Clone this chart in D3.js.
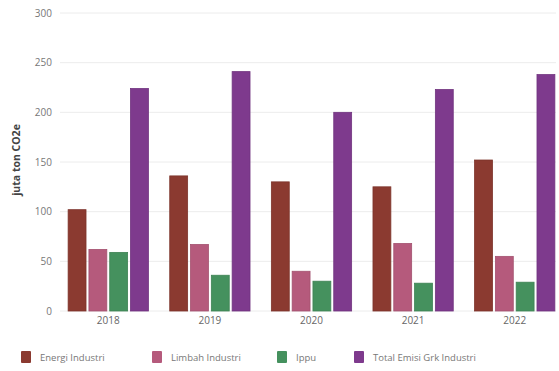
<!DOCTYPE html>
<html>
<head>
<meta charset="utf-8">
<script src="https://cdn.jsdelivr.net/npm/d3@7"></script>
<style>
  html, body { margin: 0; padding: 0; background: #fff; }
  svg { display: block; font-family: "Open Sans", "Noto Sans", sans-serif; }
</style>
</head>
<body>
<svg id="chart" width="559" height="371"></svg>
<script>
// Emisi GRK sektor industri per tahun (juta ton CO2e)
const years = ["2018", "2019", "2020", "2021", "2022"];
const seriesNames = ["Energi Industri", "Limbah Industri", "Ippu", "Total Emisi Grk Industri"];
const energiIndustri = [102, 136, 130, 125, 152];
const limbahIndustri = [62, 67, 40, 68, 55];
const ippu = [59, 36, 30, 28, 29];
const totalEmisi = [224, 241, 200, 223, 238];
const yTicks = [0, 50, 100, 150, 200, 250, 300];
const colors = ["#8b3a30", "#b55a7c", "#45915e", "#7e3a8d"];

const seriesValues = [energiIndustri, limbahIndustri, ippu, totalEmisi];
const rows = years.map((yr, i) => ({
  year: yr,
  values: seriesNames.map((name, s) => ({ name, s, v: seriesValues[s][i] }))
}));

const svg = d3.select("#chart");
const plot = { left: 60, right: 563, top: 13, bottom: 311 };

const x0 = d3.scaleBand()
  .domain(years)
  .range([plot.left, plot.right])
  .paddingInner(0.21)
  .paddingOuter(0.08);

const x1 = d3.scaleBand()
  .domain(seriesNames)
  .range([0, x0.bandwidth()])
  .paddingInner(0.14);

const y = d3.scaleLinear().domain([0, 300]).range([plot.bottom, plot.top]);
const color = d3.scaleOrdinal().domain(seriesNames).range(colors);

// horizontal grid lines
svg.append("g")
  .selectAll("line")
  .data(yTicks)
  .join("line")
  .attr("x1", plot.left)
  .attr("x2", 556)
  .attr("y1", d => y(d))
  .attr("y2", d => y(d))
  .attr("stroke", "#ececec")
  .attr("stroke-width", 1);

// y axis labels
const yAxis = d3.axisLeft(y).tickValues(yTicks).tickSize(0).tickPadding(8);
svg.append("g")
  .attr("transform", `translate(${plot.left},0)`)
  .call(yAxis)
  .call(g => g.select(".domain").remove())
  .call(g => g.selectAll("text")
    .attr("fill", "#777")
    .attr("font-size", 10)
    .attr("font-family", "\"Open Sans\", sans-serif"));

// y axis title
svg.append("text")
  .attr("transform", `translate(20,160) rotate(-90)`)
  .attr("text-anchor", "middle")
  .attr("font-size", 10.5)
  .attr("font-weight", "bold")
  .attr("fill", "#444")
  .text("juta ton CO2e");

// bars
svg.append("g")
  .selectAll("g")
  .data(rows)
  .join("g")
  .attr("transform", d => `translate(${x0(d.year)},0)`)
  .selectAll("rect")
  .data(d => d.values)
  .join("rect")
  .attr("x", d => x1(d.name))
  .attr("width", x1.bandwidth())
  .attr("y", d => y(d.v))
  .attr("height", d => y(0) - y(d.v))
  .attr("fill", d => color(d.name))
  .attr("stroke", d => d3.color(color(d.name)).darker(0.3))
  .attr("stroke-width", 0.8);

// x axis labels
const xAxis = d3.axisBottom(x0).tickSize(0).tickPadding(6);
svg.append("g")
  .attr("transform", `translate(0,${plot.bottom})`)
  .call(xAxis)
  .call(g => g.select(".domain").remove())
  .call(g => g.selectAll("text")
    .attr("fill", "#666")
    .attr("font-size", 10)
    .attr("font-family", "\"Open Sans\", sans-serif"));

// legend
const legendX = [21, 152, 277, 354];
const legend = svg.append("g")
  .selectAll("g")
  .data(seriesNames)
  .join("g")
  .attr("transform", (d, i) => `translate(${legendX[i]},351)`);
legend.append("rect")
  .attr("width", 10)
  .attr("height", 12)
  .attr("rx", 1)
  .attr("fill", d => color(d));
legend.append("text")
  .attr("x", 19)
  .attr("y", 10)
  .attr("font-size", 9.5)
  .attr("fill", "#777")
  .text(d => d);
</script>
</body>
</html>
